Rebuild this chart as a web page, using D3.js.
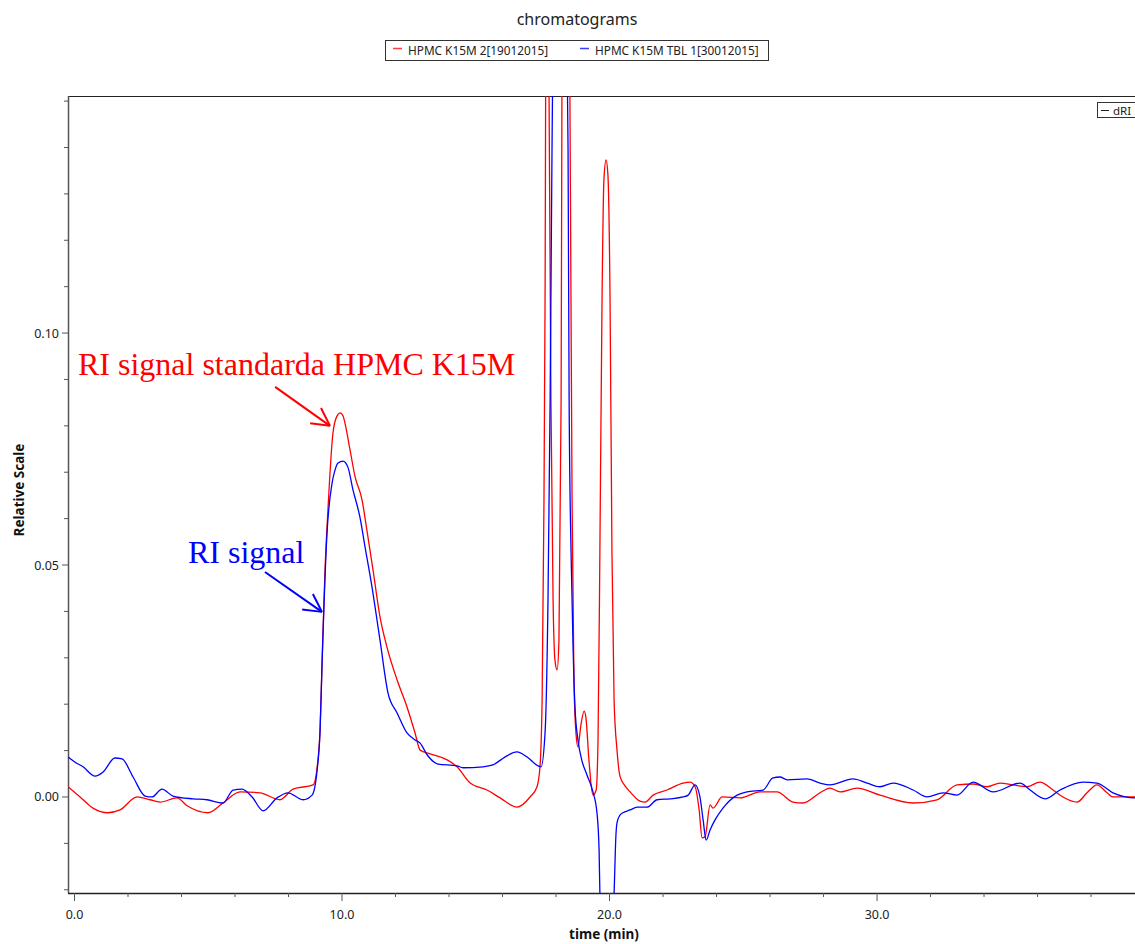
<!DOCTYPE html>
<html>
<head>
<meta charset="utf-8">
<script src="https://cdn.jsdelivr.net/npm/d3@7"></script>
<style>
  html, body { margin: 0; padding: 0; background: #fff; }
  svg { display: block; }
</style>
</head>
<body>
<svg id="chart" width="1135" height="944"></svg>
<script>
// ---- data -------------------------------------------------------------
const chartTitle = "chromatograms";
const seriesNames = ["HPMC K15M 2[19012015]", "HPMC K15M TBL 1[30012015]"];
const seriesColors = ["#ff0000", "#0000ff"];
const detectorName = "dRI";

// retention time (min) / relative dRI response, standard HPMC K15M
const redTime = [-0.24, 0.21, 0.69, 1.25, 1.70, 2.34, 2.82, 3.20, 3.83, 4.21, 4.99, 5.55, 6.19, 6.93, 7.68, 8.17, 8.92,
  9.10, 9.18, 9.25, 9.36, 9.48, 9.66, 9.81, 9.93, 10.04, 10.11, 10.30, 10.49, 10.75, 10.93, 11.16, 11.42, 11.68,
  12.06, 12.43, 12.73, 12.92, 13.29, 13.93, 14.30, 14.79, 15.42, 15.91, 16.54, 17.03, 17.29, 17.40, 17.48, 17.55,
  17.59, 17.66, 17.74, 17.81, 17.89, 17.96, 18.04, 18.11, 18.19, 18.22, 18.34, 18.52, 18.60, 18.67, 18.75, 18.82,
  18.93, 19.05, 19.12, 19.23, 19.38, 19.50, 19.57, 19.64, 19.72, 19.79, 19.87, 19.94, 20.02, 20.09, 20.17, 20.28,
  20.39, 20.58, 20.77, 21.14, 21.33, 21.63, 22.15, 22.75, 23.01, 23.20, 23.35, 23.46, 23.57, 23.76, 23.87, 24.21,
  24.88, 25.63, 26.26, 26.86, 27.23, 27.87, 28.24, 28.62, 29.25, 30.11, 31.35, 32.24, 32.99, 33.59, 34.11, 34.60,
  35.08, 35.61, 36.09, 36.58, 36.95, 37.48, 37.85, 38.22, 38.60, 38.82, 39.64, 39.83];
const redSignal = [0.0022, 0.0000, -0.0024, -0.0034, -0.0028, 0.0000, -0.0006, -0.0011, -0.0002, -0.0019, -0.0034,
  -0.0013, 0.0011, 0.0009, -0.0006, 0.0017, 0.0026,
  0.0080, 0.0144, 0.0280, 0.0483, 0.0625, 0.0784, 0.0821, 0.0828, 0.0821, 0.0806, 0.0748, 0.0690, 0.0640, 0.0575,
  0.0489, 0.0388, 0.0323, 0.0252, 0.0194, 0.0138, 0.0101, 0.0093, 0.0080, 0.0065, 0.0030, 0.0015, -0.0002, -0.0022,
  0.0000, 0.0022, 0.0065, 0.0209, 0.0640, 0.1071, 0.2400, 0.1502, 0.0856, 0.0425, 0.0295, 0.0274, 0.0338, 0.0856,
  0.1502, 0.2600, 0.1502, 0.0640, 0.0252, 0.0134, 0.0108, 0.0155, 0.0185, 0.0170, 0.0080, 0.0004, 0.0015, 0.0123,
  0.0532, 0.1071, 0.1330, 0.1373, 0.1341, 0.1071, 0.0532, 0.0209, 0.0101, 0.0045, 0.0024, 0.0011, -0.0009, -0.0011,
  0.0004, 0.0015, 0.0030, 0.0032, 0.0022, -0.0028, -0.0088, -0.0086, -0.0017, -0.0024, 0.0000, -0.0002, 0.0011,
  0.0011, -0.0011, -0.0013, 0.0009, 0.0019, 0.0011, 0.0019, 0.0004, -0.0013, -0.0006, 0.0026, 0.0028, 0.0022,
  0.0030, 0.0026, 0.0022, 0.0032, 0.0015, 0.0000, -0.0011, 0.0009, 0.0026, 0.0009, 0.0000, 0.0000, 0.0000];

// retention time (min) / relative dRI response, tablet sample
const blueTime = [-0.24, 0.02, 0.32, 0.77, 1.07, 1.51, 1.78, 2.19, 2.64, 2.90, 3.27, 3.68, 4.43, 4.95, 5.55, 5.93,
  6.26, 6.64, 7.05, 7.57, 7.98, 8.54, 8.88, 9.07, 9.18, 9.25, 9.44, 9.63, 9.74, 9.85, 10.04, 10.22, 10.41, 10.67,
  10.86, 11.12, 11.42, 11.72, 12.06, 12.43, 12.73, 12.92, 13.18, 13.59, 14.30, 14.52, 15.27, 15.64, 16.09, 16.54,
  16.92, 17.33, 17.44, 17.59, 17.70, 17.78, 17.85, 18.07, 18.41, 18.45, 18.49, 18.56, 18.64, 18.71, 18.82, 18.97,
  19.16, 19.38, 19.53, 19.61, 19.64, 19.76, 20.06, 20.17, 20.24, 20.28, 20.39, 20.50, 20.77, 21.03, 21.40, 21.78,
  22.26, 22.75, 22.94, 23.20, 23.38, 23.50, 23.61, 23.76, 23.94, 24.24, 24.77, 25.14, 25.74, 26.11, 26.37, 26.64,
  27.38, 27.87, 28.24, 29.10, 29.63, 30.11, 30.60, 31.35, 31.87, 32.47, 32.99, 33.59, 34.34, 35.35, 35.72, 36.28,
  36.84, 37.70, 38.22, 38.82, 39.64, 39.83];
const blueSignal = [0.0086, 0.0075, 0.0065, 0.0045, 0.0054, 0.0084, 0.0082, 0.0043, 0.0002, 0.0000, 0.0017, 0.0002,
  -0.0004, -0.0006, -0.0013, 0.0015, 0.0017, 0.0000, -0.0030, -0.0002, 0.0009, -0.0006, 0.0004, 0.0058, 0.0144,
  0.0280, 0.0569, 0.0677, 0.0705, 0.0720, 0.0724, 0.0711, 0.0662, 0.0603, 0.0539, 0.0453, 0.0338, 0.0224, 0.0181,
  0.0138, 0.0123, 0.0116, 0.0091, 0.0071, 0.0067, 0.0063, 0.0065, 0.0069, 0.0086, 0.0097, 0.0086, 0.0067, 0.0065,
  0.0138, 0.0425, 0.0856, 0.1394, 0.2300, 0.1610, 0.1394, 0.0856, 0.0532, 0.0317, 0.0192, 0.0123, 0.0078, 0.0047,
  0.0011, -0.0034, -0.0114, -0.0207, -0.0300, -0.0300, -0.0207, -0.0082, -0.0056, -0.0039, -0.0034, -0.0028,
  -0.0022, -0.0022, -0.0006, -0.0004, 0.0000, 0.0004, 0.0026, 0.0000, -0.0050, -0.0093, -0.0071, -0.0050, -0.0024,
  0.0004, 0.0011, 0.0015, 0.0041, 0.0043, 0.0037, 0.0039, 0.0030, 0.0026, 0.0039, 0.0030, 0.0022, 0.0030, 0.0015,
  0.0000, 0.0009, 0.0004, 0.0032, 0.0011, 0.0030, 0.0015, -0.0004, 0.0015, 0.0032, 0.0030, 0.0009, -0.0002, -0.0002];

// axis ticks
const xMajorTicks = [0, 10, 20, 30];
const xMinorTicks = [2, 4, 6, 8, 12, 14, 16, 18, 22, 24, 26, 28, 32, 34, 36, 38];
const yMajorTicks = [0, 0.05, 0.10];
const yMinorTicks = [-0.02, -0.01, 0.01, 0.02, 0.03, 0.04, 0.06, 0.07, 0.08, 0.09, 0.11, 0.12, 0.13, 0.14, 0.15];
const xLabel = "time (min)";
const yLabel = "Relative Scale";

// callouts: text anchor, arrow tail and arrow tip in (time, signal)
const callouts = [
  { text: "RI signal standarda HPMC K15M", color: "#ff0000", at: [0.13, 0.0909], tail: [7.50, 0.0884], tip: [9.55, 0.0800] },
  { text: "RI signal", color: "#0000ff", at: [4.24, 0.0504], tail: [7.12, 0.0485], tip: [9.25, 0.0399] }
];

// ---- layout -----------------------------------------------------------
const svg = d3.select("#chart");
const plot = { left: 68, top: 96, right: 1140, bottom: 893 };
const uiFont = "'Noto Sans', 'Open Sans', sans-serif";

const x = d3.scaleLinear().domain([-0.243, 39.83]).range([plot.left, plot.right]);
const y = d3.scaleLinear().domain([-0.0207, 0.1511]).range([plot.bottom, plot.top]);

svg.append("defs").append("clipPath").attr("id", "plotClip")
  .append("rect")
  .attr("x", plot.left).attr("y", plot.top)
  .attr("width", plot.right - plot.left).attr("height", plot.bottom - plot.top);

// title
svg.append("text")
  .attr("x", 577).attr("y", 25)
  .attr("text-anchor", "middle")
  .style("font-family", uiFont).style("font-size", "16px").attr("fill", "#222")
  .text(chartTitle);

// series legend
const legend = svg.append("g");
legend.append("rect")
  .attr("x", 385.5).attr("y", 40.5).attr("width", 383).attr("height", 20)
  .attr("fill", "#fff").attr("stroke", "#333").attr("stroke-width", 1);
const legendX = [393, 580];
seriesNames.forEach((name, i) => {
  legend.append("line")
    .attr("x1", legendX[i]).attr("x2", legendX[i] + 9).attr("y1", 48.5).attr("y2", 48.5)
    .attr("stroke", seriesColors[i]).attr("stroke-width", 1.5).attr("opacity", 0.75);
  legend.append("text")
    .attr("x", legendX[i] + 15).attr("y", 55)
    .style("font-family", uiFont).style("font-size", "11.8px").attr("fill", "#222")
    .text(name);
});

// detector legend (top right)
svg.append("rect")
  .attr("x", 1097.5).attr("y", 102.5).attr("width", 50).attr("height", 15)
  .attr("fill", "#fff").attr("stroke", "#333").attr("stroke-width", 1);
svg.append("line")
  .attr("x1", 1101).attr("x2", 1109).attr("y1", 110.5).attr("y2", 110.5)
  .attr("stroke", "#222").attr("stroke-width", 1);
svg.append("text")
  .attr("x", 1113).attr("y", 114.5)
  .style("font-family", uiFont).style("font-size", "11.5px").attr("fill", "#222")
  .text(detectorName);

// frame: top border
svg.append("line")
  .attr("x1", plot.left).attr("x2", plot.right).attr("y1", plot.top + 0.5).attr("y2", plot.top + 0.5)
  .attr("stroke", "#222").attr("stroke-width", 1);

// y axis
const yAxis = svg.append("g").attr("transform", `translate(${plot.left},0)`);
yAxis.append("line")
  .attr("x1", 0.5).attr("x2", 0.5).attr("y1", plot.top).attr("y2", plot.bottom)
  .attr("stroke", "#555").attr("stroke-width", 1.5);
yAxis.selectAll(".ymaj").data(yMajorTicks).join("line")
  .attr("x1", -6).attr("x2", 0).attr("y1", d => y(d)).attr("y2", d => y(d))
  .attr("stroke", "#555").attr("stroke-width", 1);
yAxis.selectAll(".ymin").data(yMinorTicks).join("line")
  .attr("x1", -4).attr("x2", 0).attr("y1", d => y(d)).attr("y2", d => y(d))
  .attr("stroke", "#555").attr("stroke-width", 1);
yAxis.selectAll("text").data(yMajorTicks).join("text")
  .attr("x", -9).attr("y", d => y(d) + 4.5)
  .attr("text-anchor", "end")
  .style("font-family", uiFont).style("font-size", "12.5px").attr("fill", "#222")
  .text(d => d3.format(".2f")(d));

// x axis
const xAxis = svg.append("g").attr("transform", `translate(0,${plot.bottom})`);
xAxis.append("line")
  .attr("x1", plot.left).attr("x2", plot.right).attr("y1", 0.5).attr("y2", 0.5)
  .attr("stroke", "#222").attr("stroke-width", 1.5);
xAxis.selectAll(".xmaj").data(xMajorTicks).join("line")
  .attr("x1", d => x(d)).attr("x2", d => x(d)).attr("y1", 0).attr("y2", 8)
  .attr("stroke", "#555").attr("stroke-width", 1);
xAxis.selectAll(".xmin").data(xMinorTicks).join("line")
  .attr("x1", d => x(d)).attr("x2", d => x(d)).attr("y1", 0).attr("y2", 4)
  .attr("stroke", "#555").attr("stroke-width", 1);
xAxis.selectAll("text").data(xMajorTicks).join("text")
  .attr("x", d => x(d)).attr("y", 26)
  .attr("text-anchor", "middle")
  .style("font-family", uiFont).style("font-size", "12.5px").attr("fill", "#222")
  .text(d => d3.format(".1f")(d));

// axis titles
svg.append("text")
  .attr("x", 604).attr("y", 939)
  .attr("text-anchor", "middle")
  .style("font-family", uiFont).style("font-size", "13.5px").style("font-weight", "bold").attr("fill", "#111")
  .text(xLabel);
svg.append("text")
  .attr("transform", "translate(24,490) rotate(-90)")
  .attr("text-anchor", "middle")
  .style("font-family", uiFont).style("font-size", "13.5px").style("font-weight", "bold").attr("fill", "#111")
  .text(yLabel);

// traces
const line = d3.line()
  .x(d => x(d[0]))
  .y(d => y(d[1]))
  .curve(d3.curveMonotoneX);

const traces = [
  d3.zip(redTime, redSignal),
  d3.zip(blueTime, blueSignal)
];
const traceLayer = svg.append("g").attr("clip-path", "url(#plotClip)");
traces.forEach((pts, i) => {
  traceLayer.append("path")
    .datum(pts)
    .attr("d", line)
    .attr("fill", "none")
    .attr("stroke", seriesColors[i])
    .attr("stroke-width", 1.3)
    .attr("stroke-linejoin", "round");
});

// callouts with open arrowheads
callouts.forEach(c => {
  const g = svg.append("g");
  g.append("text")
    .attr("x", x(c.at[0])).attr("y", y(c.at[1]))
    .style("font-family", "'Liberation Serif', 'Times New Roman', serif")
    .style("font-size", "32px").attr("fill", c.color)
    .text(c.text);
  const x0 = x(c.tail[0]), y0 = y(c.tail[1]);
  const x1 = x(c.tip[0]), y1 = y(c.tip[1]);
  const ang = Math.atan2(y0 - y1, x0 - x1);
  const len = 20, spread = 28 * Math.PI / 180;
  g.append("line")
    .attr("x1", x0).attr("y1", y0).attr("x2", x1).attr("y2", y1)
    .attr("stroke", c.color).attr("stroke-width", 2);
  [-spread, spread].forEach(s => {
    g.append("line")
      .attr("x1", x1).attr("y1", y1)
      .attr("x2", x1 + len * Math.cos(ang + s)).attr("y2", y1 + len * Math.sin(ang + s))
      .attr("stroke", c.color).attr("stroke-width", 2);
  });
});
</script>
</body>
</html>
